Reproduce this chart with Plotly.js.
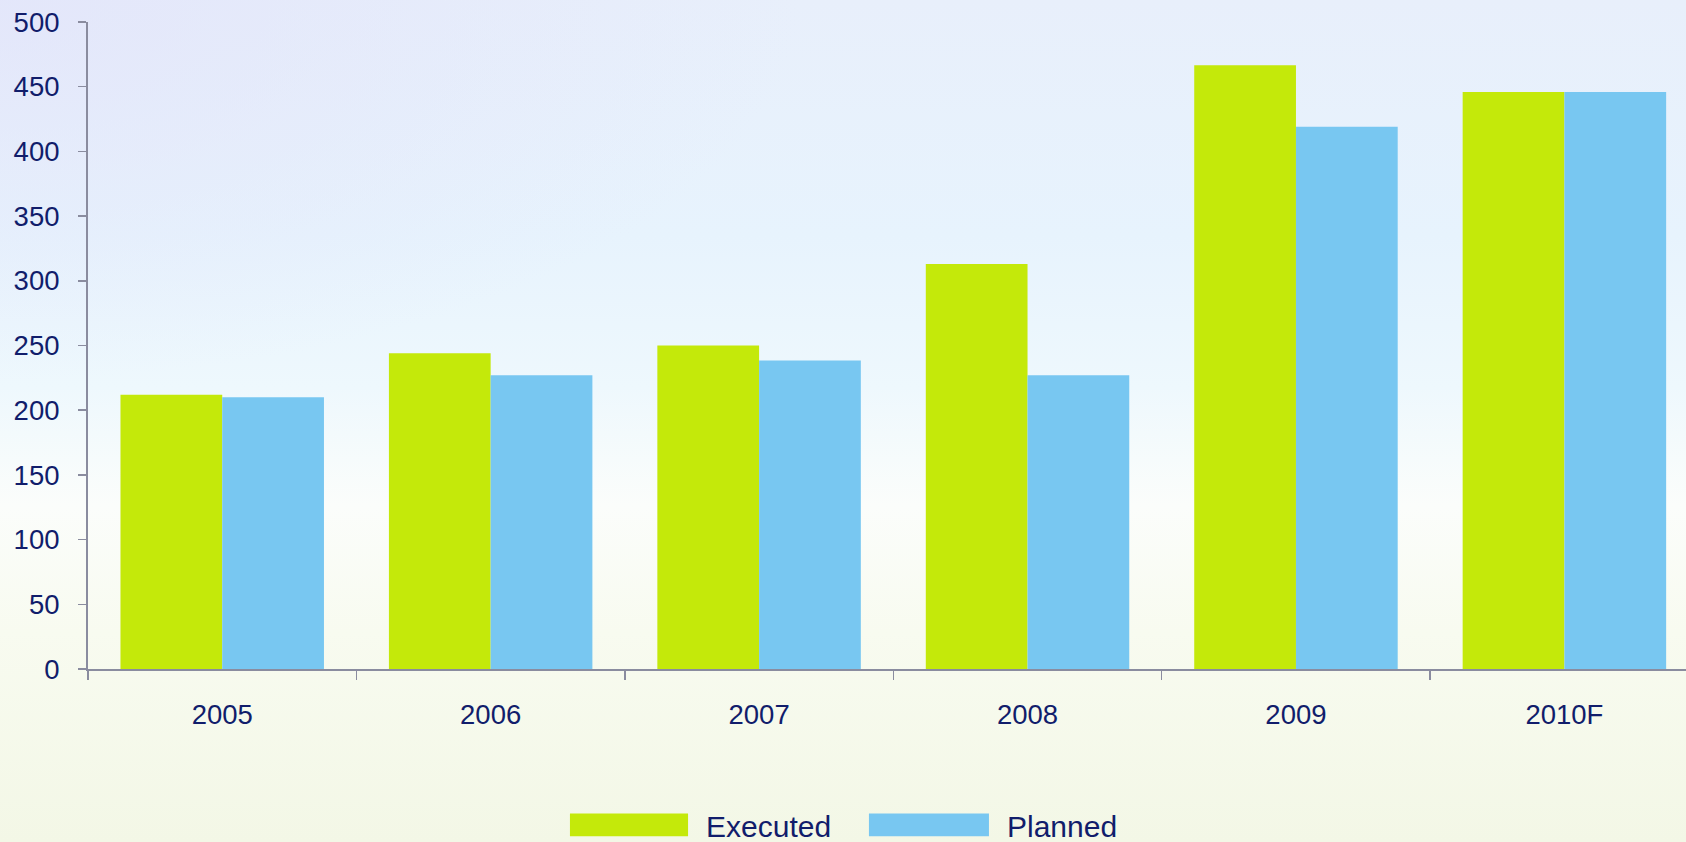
<!DOCTYPE html>
<html>
<head>
<meta charset="utf-8">
<script src="https://cdn.plot.ly/plotly-3.0.1.min.js"></script>
<style>
html,body{margin:0;padding:0;width:1686px;height:842px;overflow:hidden;}
body{
  background:
    radial-gradient(ellipse 800px 380px at 0px 0px, rgba(226,228,250,0.75), rgba(226,228,250,0) 100%),
    linear-gradient(180deg, #e8effb 0%, #e7f3fd 28%, #eef8fd 46%, #fbfdfb 60%, #f8fbf0 75%, #f3f7e6 100%);
}
#chart{width:1686px;height:842px;}
</style>
</head>
<body>
<div id="chart"></div>
<script>
const categories = ["2005", "2006", "2007", "2008", "2009", "2010F"];
const executed = [212, 244, 250, 313, 466.5, 446];
const planned = [210, 227, 238.5, 227, 419, 446];
const seriesNames = ["Executed", "Planned"];
const seriesColors = ["#c4e90a", "#78c7f1"];
const yTicks = [0, 50, 100, 150, 200, 250, 300, 350, 400, 450, 500];

const navy = "#111d6b";
const axisGray = "#8a8c9f";

const traces = [
  {type: "bar", x: categories, y: executed, name: seriesNames[0],
   marker: {color: seriesColors[0], line: {width: 0}}, showlegend: false, hoverinfo: "x+y+name"},
  {type: "bar", x: categories, y: planned, name: seriesNames[1],
   marker: {color: seriesColors[1], line: {width: 0}}, showlegend: false, hoverinfo: "x+y+name"}
];

// custom legend (wide swatches as in the reference)
const legendItems = [
  {name: seriesNames[0], color: seriesColors[0], x0: 0.3016, x1: 0.3755, tx: 0.3855},
  {name: seriesNames[1], color: seriesColors[1], x0: 0.4887, x1: 0.5638, tx: 0.5738}
];
const shapes = legendItems.map(it => ({
  type: "rect", xref: "paper", yref: "paper",
  x0: it.x0, x1: it.x1, y0: -0.2585, y1: -0.2234,
  fillcolor: it.color, line: {width: 0}
}));
const annotations = legendItems.map(it => ({
  xref: "paper", yref: "paper", x: it.tx, y: -0.243,
  xanchor: "left", yanchor: "middle", showarrow: false,
  text: it.name,
  font: {family: "Liberation Sans, Arial, sans-serif", size: 30, color: navy}
}));

const layout = {
  width: 1686, height: 842,
  margin: {l: 88, r: 0, t: 22, b: 173, pad: 0},
  paper_bgcolor: "rgba(0,0,0,0)",
  plot_bgcolor: "rgba(0,0,0,0)",
  barmode: "group",
  bargap: 0.242,
  bargroupgap: 0,
  font: {family: "Liberation Sans, Arial, sans-serif", size: 27.5, color: navy},
  xaxis: {
    type: "category",
    range: [-0.5, 5.453],
    tickson: "boundaries",
    ticks: "outside", ticklen: 9, tickwidth: 1.5, tickcolor: axisGray,
    showline: true, linecolor: axisGray, linewidth: 2,
    showgrid: false, zeroline: false,
    ticklabelstandoff: 20,
    tickfont: {size: 27.5, color: navy}
  },
  yaxis: {
    range: [0, 500],
    tickvals: yTicks,
    ticks: "outside", ticklen: 8, tickwidth: 1.5, tickcolor: axisGray,
    showline: true, linecolor: axisGray, linewidth: 2,
    showgrid: false, zeroline: false,
    ticklabelstandoff: 13,
    tickfont: {size: 27.5, color: navy}
  },
  shapes: shapes,
  annotations: annotations
};

Plotly.newPlot("chart", traces, layout, {displayModeBar: false, staticPlot: true});
</script>
</body>
</html>
